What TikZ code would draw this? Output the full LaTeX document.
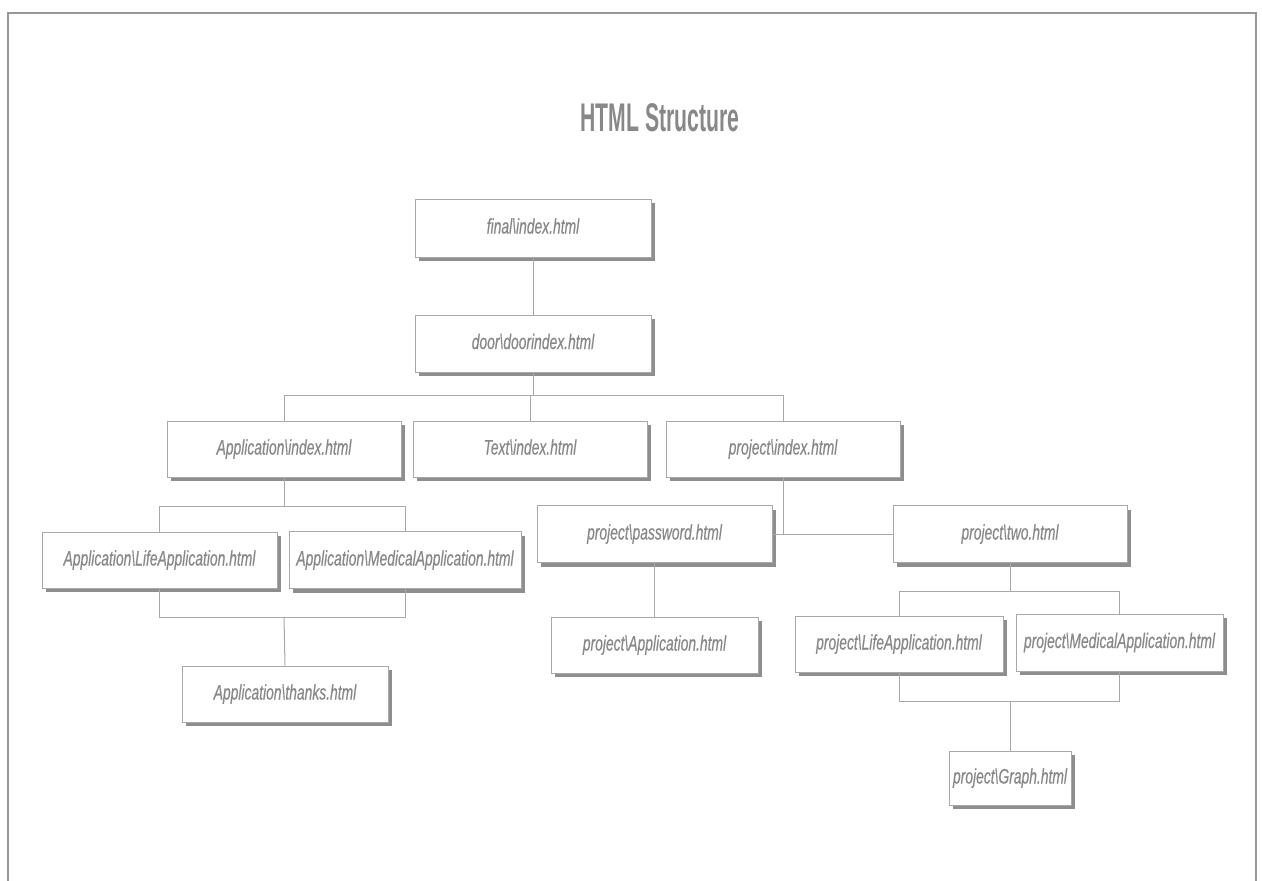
\documentclass[tikz,border=0pt]{standalone}
\usepackage{fontspec}
\setmainfont{Liberation Sans}[FakeStretch=0.66, FakeBold=0.4]
\newfontfamily\titlefont{Liberation Sans}[FakeStretch=0.53]
\usetikzlibrary{shadows}
\definecolor{txtgray}{HTML}{888888}
\definecolor{linegray}{HTML}{A8A8A8}
\definecolor{shadegray}{HTML}{8E8E8E}
\tikzset{
  pagebox/.style={draw=linegray, line width=0.9pt, fill=white, inner sep=0pt,
    text=txtgray, font=\itshape\fontsize{21}{23}\selectfont,
    text height=16pt, text depth=5pt,
    drop shadow={shadow xshift=4pt, shadow yshift=-4pt, fill=shadegray, opacity=1}},
  link/.style={draw=linegray, line width=1pt},
  frameline/.style={draw=linegray!90!black, line width=2pt}
}
\begin{document}
\begin{tikzpicture}[x=1pt,y=-1pt]
\useasboundingbox (0,0) rectangle (1262,881);
\draw[frameline] (8,881) -- (8,13) -- (1256,13) -- (1256,881);
\node[text=txtgray, font=\titlefont\bfseries\fontsize{40}{44}\selectfont] (title) at (660,118) {HTML Structure};

\node[pagebox, minimum width=236pt, minimum height=58pt] (final) at (533,228) {final\textbackslash index.html};
\node[pagebox, minimum width=236pt, minimum height=57pt] (door) at (533,343.5) {door\textbackslash doorindex.html};
\node[pagebox, minimum width=234pt, minimum height=56pt] (appidx) at (284,449) {Application\textbackslash index.html};
\node[pagebox, minimum width=234pt, minimum height=56pt] (textidx) at (530,449) {Text\textbackslash index.html};
\node[pagebox, minimum width=234pt, minimum height=56pt] (projidx) at (783,449) {project\textbackslash index.html};
\node[pagebox, minimum width=235pt, minimum height=56pt] (applife) at (159.5,560) {Application\textbackslash LifeApplication.html};
\node[pagebox, minimum width=232pt, minimum height=57pt] (appmed) at (405,560) {Application\textbackslash MedicalApplication.html};
\node[pagebox, minimum width=206pt, minimum height=56pt] (thanks) at (285,694) {Application\textbackslash thanks.html};
\node[pagebox, minimum width=235pt, minimum height=57pt] (password) at (654.5,534) {project\textbackslash password.html};
\node[pagebox, minimum width=234pt, minimum height=57pt] (two) at (1010,534) {project\textbackslash two.html};
\node[pagebox, minimum width=207pt, minimum height=56pt] (projapp) at (654.5,645) {project\textbackslash Application.html};
\node[pagebox, minimum width=208pt, minimum height=56pt] (projlife) at (899,644) {project\textbackslash LifeApplication.html};
\node[pagebox, minimum width=207pt, minimum height=57pt] (projmed) at (1119.5,642.5) {project\textbackslash MedicalApplication.html};
\node[pagebox, minimum width=122pt, minimum height=54pt] (graph) at (1010,778) {project\textbackslash Graph.html};

% junction coordinates
\coordinate (j1) at (533,395);
\coordinate (a1) at (284,506);
\coordinate (a2) at (284,617);
\coordinate (p1) at (1010,591);
\coordinate (p2) at (1010,701);

\draw[link] (final.south) -- (door.north);
\draw[link] (door.south) -- (j1);
\draw[link] (appidx.north) -- (appidx.north |- j1) -- (projidx.north |- j1) -- (projidx.north);
\draw[link] (textidx.north |- j1) -- (textidx.north);
\draw[link] (appidx.south) -- (a1);
\draw[link] (applife.north) -- (applife.north |- a1) -- (appmed.north |- a1) -- (appmed.north);
\draw[link] (applife.south) -- (applife.south |- a2) -- (appmed.south |- a2) -- (appmed.south);
\draw[link] (a2) -- (thanks.north);
\draw[link] (projidx.south) -- (projidx.south |- password.east);
\draw[link] (password.east) -- (two.west);
\draw[link] (password.south) -- (projapp.north);
\draw[link] (two.south) -- (p1);
\draw[link] (projlife.north) -- (projlife.north |- p1) -- (projmed.north |- p1) -- (projmed.north);
\draw[link] (projlife.south) -- (projlife.south |- p2) -- (projmed.south |- p2) -- (projmed.south);
\draw[link] (p2) -- (graph.north);
\end{tikzpicture}
\end{document}
